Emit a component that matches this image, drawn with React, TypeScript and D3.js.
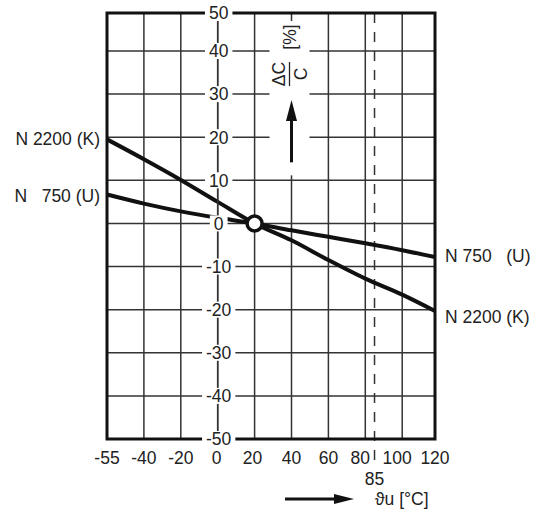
import React from 'react';
import * as d3 from 'd3';

// temperature columns of the grid (the grid is evenly spaced per column, not per degree)
const temps = [-55, -40, -20, 0, 20, 40, 60, 80, 100, 120];
// dC/C in % at every column
const n2200K = [19.5, 14.9, 10.1, 5.0, 0, -3.9, -8.5, -12.8, -16.5, -20.3];
const n750U = [6.7, 4.6, 2.8, 1.3, 0, -1.6, -3.1, -4.6, -6.2, -7.8];
const yTicks = [50, 40, 30, 20, 10, 0, -10, -20, -30, -40, -50];
const refTemp = 20;
const refValue = 0;
const markerTemp = 85;
const seriesNames = ['N 2200 (K)', 'N 750 (U)'];
const leftLabels = ['N 2200 (K)', 'N   750 (U)'];
const rightLabels = ['N 750   (U)', 'N 2200 (K)'];

const FONT = '"Liberation Sans", Arial, Helvetica, sans-serif';
const FS = 17.5;

// rough text width for white boxes behind the axis labels
const textW = (s: string) =>
  s.split('').reduce((a, c) => a + (c === '-' ? 0.333 : 0.556), 0) * FS;

const App = () => {
  const width = 534;
  const height = 510;

  const x = d3
    .scaleLinear()
    .domain(temps)
    .range(temps.map((_, i) => (i === temps.length - 1 ? 435 : 107 + i * 36.9)));
  const y = d3.scaleLinear().domain([-50, 40, 50]).range([439, 51, 13]);

  const x0 = x(temps[0]);
  const x1 = x(temps[temps.length - 1]);
  const yTop = y(50);
  const yBot = y(-50);
  const axisX = x(0);

  const line = d3
    .line<[number, number]>()
    .x((d) => x(d[0]))
    .y((d) => y(d[1]))
    .curve(d3.curveMonotoneX);

  const series = [n2200K, n750U];
  const leftDy = [6, 7];
  const rightDy = [12, 5];
  const rightOrder = [1, 0]; // right labels top to bottom: N750, N2200

  const labelCol = x(40);

  return (
    <svg
      width={width}
      height={height}
      style={{ position: 'absolute', left: 0, top: 0, background: '#fff' }}
      fontFamily={FONT}
      fontSize={FS}
    >
      {/* horizontal grid */}
      {yTicks
        .filter((v) => v !== 50 && v !== -50)
        .map((v) => (
          <line key={'h' + v} x1={x0} x2={x1} y1={y(v)} y2={y(v)} stroke="#333" strokeWidth={1.5} />
        ))}
      {/* vertical grid */}
      {temps.slice(1, -1).map((t) => (
        <line key={'v' + t} x1={x(t)} x2={x(t)} y1={yTop} y2={yBot} stroke="#333" strokeWidth={1.5} />
      ))}
      {/* 85 degree marker */}
      <line
        x1={x(markerTemp)}
        x2={x(markerTemp)}
        y1={yTop}
        y2={yBot + 30}
        stroke="#333"
        strokeWidth={1.5}
        strokeDasharray="10,9"
      />
      {/* border */}
      <rect x={x0} y={yTop} width={x1 - x0} height={yBot - yTop} fill="none" stroke="#111" strokeWidth={3} />

      {/* y label area */}
      <rect x={labelCol - 22} y={yTop + 8} width={40} height={y(10) - yTop - 13} fill="#fff" />
      <g transform={`translate(${labelCol - 2},0) rotate(-90)`} fill="#222">
        <text x={-74} y={-5} textAnchor="middle">ΔC</text>
        <line x1={-86} x2={-62} y1={0} y2={0} stroke="#222" strokeWidth={1.3} />
        <text x={-74} y={17} textAnchor="middle">C</text>
        <text x={-37} y={6} textAnchor="middle">[%]</text>
      </g>
      <line x1={labelCol} x2={labelCol} y1={y(10) - 18} y2={y(30) + 20} stroke="#111" strokeWidth={3} />
      <path
        d={`M${labelCol},${y(30) + 6} L${labelCol - 5.5},${y(30) + 27} L${labelCol + 5.5},${y(30) + 27} Z`}
        fill="#111"
      />

      {/* curves */}
      {series.map((s, i) => (
        <path
          key={seriesNames[i]}
          d={line(temps.map((t, j) => [t, s[j]] as [number, number])) || ''}
          fill="none"
          stroke="#111"
          strokeWidth={4}
        />
      ))}

      {/* y axis on 0 degrees */}
      <line x1={axisX} x2={axisX} y1={yTop} y2={yBot} stroke="#333" strokeWidth={1.5} />
      {yTicks.map((v) => {
        const s = String(v);
        const w = textW(s);
        return (
          <g key={'yt' + v}>
            <rect x={axisX + 1 - w / 2 - 4} y={y(v) - 8} width={w + 8} height={16} fill="#fff" />
            <text x={axisX + 1} y={y(v) + 6.3} textAnchor="middle" fill="#222">
              {s}
            </text>
          </g>
        );
      })}

      {/* reference point */}
      <circle cx={x(refTemp)} cy={y(refValue)} r={7.5} fill="#fff" stroke="#111" strokeWidth={3.5} />

      {/* x tick labels */}
      {temps.map((t) => (
        <text
          key={'xt' + t}
          x={x(t) + (t === 80 ? -5 : t === 100 ? -5 : t === 20 ? -2 : t === 0 ? -1 : 0)}
          y={yBot + 25}
          textAnchor="middle"
          fill="#222"
        >
          {t}
        </text>
      ))}
      <text x={x(markerTemp)} y={yBot + 46} textAnchor="middle" fill="#222">
        {markerTemp}
      </text>

      {/* series labels */}
      {series.map((s, i) => (
        <text
          key={'ll' + i}
          x={x0 - 7}
          y={y(s[0]) + leftDy[i]}
          textAnchor="end"
          fill="#222"
          style={{ whiteSpace: 'pre' }}
        >
          {leftLabels[i]}
        </text>
      ))}
      {rightOrder.map((si, k) => (
        <text
          key={'rl' + k}
          x={x1 + 10}
          y={y(series[si][series[si].length - 1]) + rightDy[si]}
          fill="#222"
          style={{ whiteSpace: 'pre' }}
        >
          {rightLabels[k]}
        </text>
      ))}

      {/* x axis title */}
      <line x1={285} x2={340} y1={499} y2={499} stroke="#111" strokeWidth={3} />
      <path d="M354,499 L334,494 L334,504 Z" fill="#111" />
      <text x={375} y={505} fill="#222">
        ϑu [°C]
      </text>
    </svg>
  );
};

export default App;
